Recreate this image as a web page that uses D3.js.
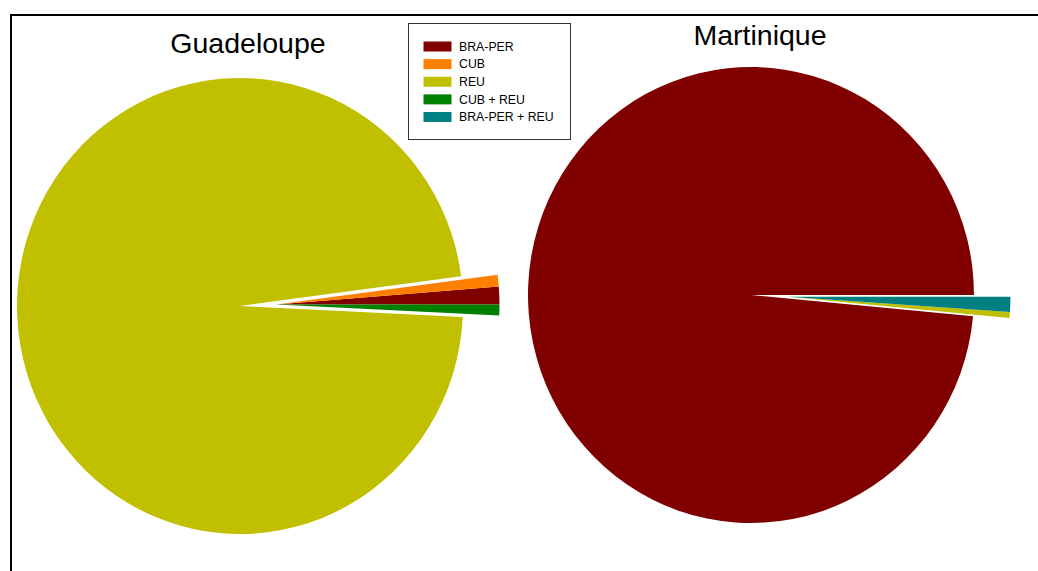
<!DOCTYPE html>
<html>
<head>
<meta charset="utf-8">
<script src="https://cdn.jsdelivr.net/npm/d3@7"></script>
<style>
  html, body { margin: 0; padding: 0; background: #fff; }
  svg { display: block; }
</style>
</head>
<body>
<svg id="chart" width="1038" height="571"></svg>
<script>
// ---- data ----
const categories = ["BRA-PER", "CUB", "REU", "CUB + REU", "BRA-PER + REU"];
const colors = ["#800000", "#ff8000", "#c0c000", "#008000", "#008080"];
const regions = ["Guadeloupe", "Martinique"];
const guadeloupeValues = [1.25, 0.83, 97.15, 0.77, 0];
const martiniqueValues = [98.52, 0, 0.42, 0, 1.06];
const guadeloupeExplode = [true, true, false, true, true];
const martiniqueExplode = [false, true, true, true, true];

// ---- layout ----
const svg = d3.select("#chart");

// outer frame (extends beyond the viewport)
svg.append("rect")
  .attr("x", 11).attr("y", 15)
  .attr("width", 1100).attr("height", 700)
  .attr("fill", "none").attr("stroke", "#000").attr("stroke-width", 2);

const pies = [
  { name: regions[0], values: guadeloupeValues, explode: guadeloupeExplode,
    cx: 240, cy: 306, titleX: 248, titleY: 53 },
  { name: regions[1], values: martiniqueValues, explode: martiniqueExplode,
    cx: 751, cy: 295, titleX: 760, titleY: 45 }
];

const rx = 223, ry = 228;
const explodeDist = 36.5;

const pieGen = d3.pie()
  .sort(null)
  .value(d => d.value)
  .startAngle(Math.PI / 2)               // 3 o'clock
  .endAngle(Math.PI / 2 - 2 * Math.PI);  // counter-clockwise

const arc = d3.arc().innerRadius(0).outerRadius(rx);

// normalise an angle so the exploded group (around 3 o'clock) is contiguous
const norm = a => { let v = a; while (v > Math.PI) v -= 2 * Math.PI; while (v < 0) v += 2 * Math.PI; return v; };

pies.forEach(p => {
  const data = categories.map((c, i) => ({ cat: c, value: p.values[i], color: colors[i], explode: p.explode[i] }));
  const arcs = pieGen(data).filter(a => a.data.value > 0);

  // the exploded slices move together along the mid angle of their group
  const ex = arcs.filter(a => a.data.explode);
  const angs = [];
  ex.forEach(a => { angs.push(norm(a.startAngle), norm(a.endAngle)); });
  const groupMid = (d3.min(angs) + d3.max(angs)) / 2;
  const dx = Math.sin(groupMid) * explodeDist;
  const dy = -Math.cos(groupMid) * explodeDist;

  const g = svg.append("g")
    .attr("transform", `translate(${p.cx},${p.cy}) scale(1,${ry / rx})`);
  g.selectAll("path")
    .data(arcs)
    .join("path")
    .attr("d", arc)
    .attr("fill", d => d.data.color)
    .attr("transform", d => d.data.explode ? `translate(${dx},${dy})` : null);

  svg.append("text")
    .attr("x", p.titleX).attr("y", p.titleY)
    .attr("text-anchor", "middle")
    .attr("font-family", "'Liberation Sans', Arial, sans-serif")
    .attr("font-size", 28.5)
    .attr("fill", "#000")
    .text(p.name);
});

// ---- legend ----
const legend = svg.append("g");
legend.append("rect")
  .attr("x", 408.5).attr("y", 23.5)
  .attr("width", 162).attr("height", 116)
  .attr("fill", "#fff").attr("stroke", "#333").attr("stroke-width", 1);

const rowY = d3.scaleLinear().domain([0, categories.length - 1]).range([46.5, 117]);
categories.forEach((c, i) => {
  const y = rowY(i);
  legend.append("rect")
    .attr("x", 423.5).attr("y", y - 5)
    .attr("width", 28).attr("height", 10)
    .attr("fill", colors[i]);
  legend.append("text")
    .attr("x", 459).attr("y", y + 4.3)
    .attr("font-family", "'Liberation Sans', Arial, sans-serif")
    .attr("font-size", 12.3)
    .attr("fill", "#000")
    .text(c);
});
</script>
</body>
</html>
